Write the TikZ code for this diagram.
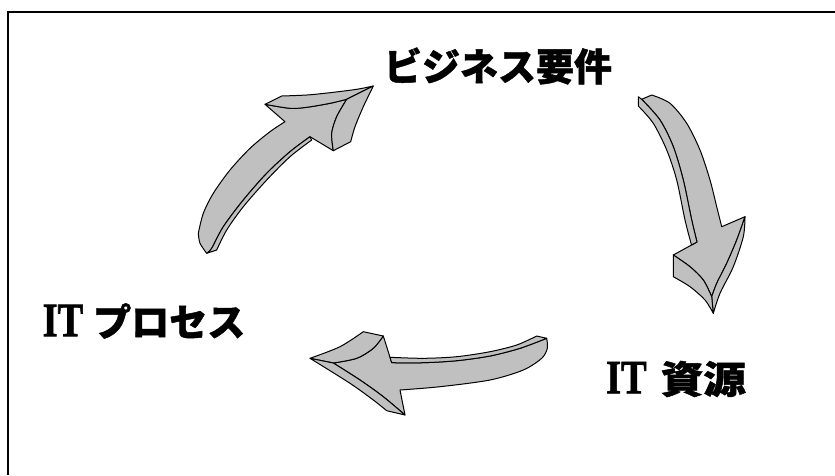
\documentclass[tikz,border=0pt]{standalone}
\usepackage{fontspec}
\setmainfont{Liberation Serif}
\newfontfamily\jp{Noto Sans CJK JP}[BoldFeatures={FakeBold=1.2}]
\newfontfamily\itheavy{Liberation Serif}[BoldFeatures={FakeBold=1.5}]
\definecolor{arrowgray}{HTML}{C0C0C0}
\newcommand{\itword}{\scalebox{0.8}[1]{\itheavy\fontsize{48}{48}\selectfont IT}}
\tikzset{
  face/.style={fill=arrowgray,draw=black,line width=1pt,line join=round},
  lbl/.style={inner sep=0pt,font=\fontsize{38}{44}\selectfont\bfseries}
}
\begin{document}
\begin{tikzpicture}[x=1pt,y=-1pt]
\useasboundingbox (0,0) rectangle (835,475);
\fill[white] (0,0) rectangle (835,475);
\draw[line width=2pt] (835,12) -- (8,12) -- (8,475);

% ---------- arrow 1 (upper left, towards business requirements)
\filldraw[face] (198.3,233.3) -- plot[smooth] coordinates {(198.3,233.3) (203.3,213.3) (213.3,193.3) (230,170) (250,148.3) (270,131.7) (285,121.7)}
  -- (265,104.3) -- plot[smooth] coordinates {(265,104.3) (290,108.3) (306.7,107.3) (330,103.3) (346.7,99.3)}
  -- plot[smooth] coordinates {(346.7,99.3) (336.7,116.7) (331.7,133.3) (333.3,150.7)}
  -- (310,136.7) -- plot[smooth] coordinates {(310,136.7) (290,151.7) (266.7,173.3) (243.3,200) (223.3,226.7) (211.7,248.3) (206.7,253.3)}
  -- plot[smooth] coordinates {(206.7,253.3) (200,243.3) (198.3,233.3)} -- cycle;
\filldraw[face] plot[smooth] coordinates {(310,136.7) (290,151.7) (266.7,173.3) (243.3,200) (223.3,226.7) (211.7,248.3) (206.7,253.3)}
  -- (216.7,250) -- plot[smooth] coordinates {(216.7,250) (226.7,230) (243.3,206.7) (266.7,180) (290,156.7) (311.7,140)} -- cycle;
\filldraw[face] (265,104.3) -- (281.7,96) -- plot[smooth] coordinates {(281.7,96) (306.7,95) (330,92.7) (356.7,89.3) (373.3,86)}
  -- (346.7,99.3) -- plot[smooth] coordinates {(346.7,99.3) (330,103.3) (306.7,107.3) (290,108.3) (265,104.3)} -- cycle;
\filldraw[face] (373.3,86) -- plot[smooth] coordinates {(373.3,86) (363.3,106.7) (355,126.7) (350.7,141.7)}
  -- (333.3,150.7) -- plot[smooth] coordinates {(333.3,150.7) (331.7,133.3) (336.7,116.7) (346.7,99.3)} -- cycle;

% ---------- arrow 2 (right, downwards)
\filldraw[face] (641.7,99.3) -- (651.7,95) -- plot[smooth] coordinates {(651.7,95) (670,103.3) (686.7,123.3) (700,150) (710,180) (716.7,206.7) (721.7,226.7)}
  -- (745,216.7) -- plot[smooth] coordinates {(745,216.7) (736.7,240) (726.7,263.3) (716.7,283.3) (711.7,296.7)}
  -- plot[smooth] coordinates {(711.7,296.7) (703.3,280) (690,266.7) (673.3,255)}
  -- (697,242) -- plot[smooth] coordinates {(697,242) (691.7,220) (683.3,180) (673.3,146.7) (660,120) (641.7,99.3)} -- cycle;
\filldraw[face] (638.3,96.7) -- plot[smooth] coordinates {(641.7,99.3) (660,120) (673.3,146.7) (683.3,180) (691.7,220) (697,242)}
  -- (691.5,245) -- plot[smooth] coordinates {(691.5,245) (685,220) (676.7,180) (666.7,150) (653.3,123.3) (638.3,106)} -- cycle;
\filldraw[face] (745,216.7) -- plot[smooth] coordinates {(745,216.7) (743.3,236.7) (733.3,266.7) (720,293.3) (713.3,313.3)}
  -- (711.7,296.7) -- plot[smooth] coordinates {(711.7,296.7) (716.7,283.3) (726.7,263.3) (736.7,240) (745,216.7)} -- cycle;
\filldraw[face] (673.3,255) -- (673.3,276.7) -- plot[smooth] coordinates {(673.3,276.7) (690,286.7) (705,300) (713.3,313.3)}
  -- (711.7,296.7) -- plot[smooth] coordinates {(711.7,296.7) (703.3,280) (690,266.7) (673.3,255)} -- cycle;

% ---------- arrow 3 (bottom, leftwards)
\filldraw[face] (333.3,363) -- plot[smooth] coordinates {(333.3,363) (356.7,358.3) (373.3,348.3) (383.3,336)}
  -- (391.7,362.7) -- plot[smooth] coordinates {(391.7,362.7) (423.3,362.7) (456.7,360.7) (490,356) (520,348.3) (546.7,338.3)}
  -- plot[smooth] coordinates {(546.7,338.3) (547.3,348.3) (541.7,358.3) (523.3,370) (490,380) (440,386.7) (400,390)}
  -- (405,415) -- plot[smooth] coordinates {(405,415) (383.3,396.7) (360,380) (333.3,363)} -- cycle;
\filldraw[face] (390,357.3) -- plot[smooth] coordinates {(390,357.3) (423.3,358.3) (456.7,356.7) (490,351.7) (516.7,345) (536.7,336)}
  -- (546.7,338.3) -- plot[smooth] coordinates {(546.7,338.3) (520,348.3) (490,356) (456.7,360.7) (423.3,362.7) (391.7,362.7)} -- cycle;
\filldraw[face] (310,358.3) -- plot[smooth] coordinates {(310,358.3) (340,346.7) (363.3,331.7)}
  -- (383.3,336) -- plot[smooth] coordinates {(383.3,336) (373.3,348.3) (356.7,358.3) (333.3,363)} -- cycle;
\filldraw[face] (310,358.3) -- plot[smooth] coordinates {(310,358.3) (350,383.3) (373.3,400) (386.7,410.7)}
  -- (405,415) -- plot[smooth] coordinates {(405,415) (383.3,396.7) (360,380) (333.3,363)} -- cycle;

% ---------- labels
\node[lbl] (biz) at (498,66) {\jp ビジネス要件};
\node[lbl] (proc) at (144,321) {\itword\hspace{10pt}\jp プロセス};
\node[lbl] (res) at (676,379) {\itword\hspace{14pt}\scalebox{1.12}[1]{\jp 資源}};
\end{tikzpicture}
\end{document}
